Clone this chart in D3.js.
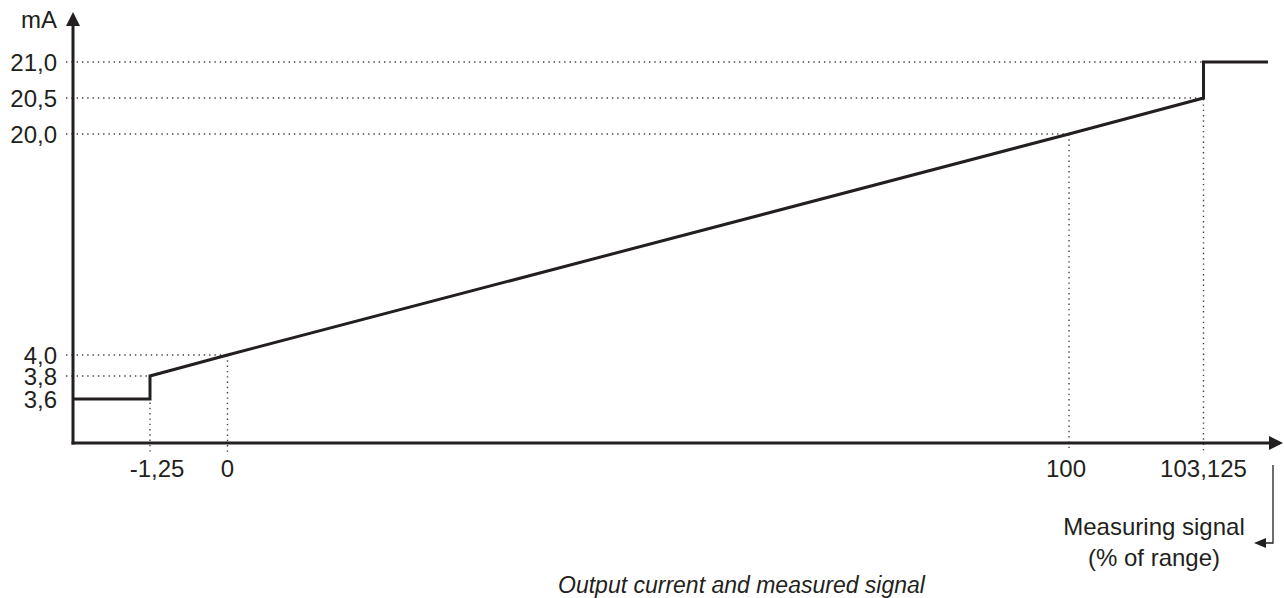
<!DOCTYPE html>
<html>
<head>
<meta charset="utf-8">
<script src="https://cdn.jsdelivr.net/npm/d3@7"></script>
<style>
  html, body { margin: 0; padding: 0; background: #fff; }
  svg { display: block; }
  text { font-family: "Liberation Sans", Arial, sans-serif; fill: #231f20; }
</style>
</head>
<body>
<svg id="chart" width="1284" height="598"></svg>
<script>
// ---- data ----
const xTicks = [-1.25, 0, 100, 103.125];
const xTickLabels = ["-1,25", "0", "100", "103,125"];
const yTicks = [3.6, 3.8, 4.0, 20.0, 20.5, 21.0];
const yTickLabels = ["3,6", "3,8", "4,0", "20,0", "20,5", "21,0"];
// characteristic curve (measuring signal %, output mA)
const curveX = [-2.5, -1.25, -1.25, 0, 100, 103.125, 103.125, 105];
const curveY = [3.6, 3.6, 3.8, 4.0, 20.0, 20.5, 21.0, 21.0];
// reference points marked with dotted guide lines
const guideX = [-1.25, 0, 100, 103.125, 103.125];
const guideY = [3.8, 4.0, 20.0, 20.5, 21.0];
const yUnit = "mA";
const xTitle = ["Measuring signal", "(% of range)"];
const caption = "Output current and measured signal";

// ---- layout ----
const svg = d3.select("#chart");
const ink = "#231f20";
const axisX0 = 73, axisY0 = 443;

// schematic (piecewise-linear) scales
const x = d3.scaleLinear()
  .domain([-2.5, -1.25, 0, 100, 103.125, 105])
  .range([axisX0, 150, 227.5, 1069, 1203.5, 1268]);
const y = d3.scaleLinear()
  .domain([3.3, 3.6, 3.8, 4.0, 20.0, 20.5, 21.0])
  .range([axisY0, 399, 376, 355, 134, 98, 62]);

// dotted guides
const g = svg.append("g");
guideX.forEach((gx, i) => {
  const gy = guideY[i];
  g.append("line")
    .attr("x1", 66).attr("x2", x(gx))
    .attr("y1", y(gy)).attr("y2", y(gy))
    .attr("stroke", "#444").attr("stroke-width", 1.4)
    .attr("stroke-dasharray", "1.4,3.9");
});
xTicks.forEach(t => {
  const top = d3.min(guideX.map((gx, i) => gx === t ? y(guideY[i]) : Infinity));
  g.append("line")
    .attr("x1", x(t)).attr("x2", x(t))
    .attr("y1", top).attr("y2", axisY0 + 9)
    .attr("stroke", "#444").attr("stroke-width", 1.4)
    .attr("stroke-dasharray", "1.4,3.9");
});

// curve
const line = d3.line().x(d => x(d[0])).y(d => y(d[1]));
svg.append("path")
  .attr("d", line(curveX.map((v, i) => [v, curveY[i]])))
  .attr("fill", "none").attr("stroke", ink).attr("stroke-width", 3)
  .attr("stroke-linejoin", "miter");

// axes
svg.append("line").attr("x1", axisX0).attr("x2", axisX0)
  .attr("y1", axisY0 + 1.5).attr("y2", 22)
  .attr("stroke", ink).attr("stroke-width", 3);
svg.append("path").attr("d", `M${axisX0},12 L${axisX0 - 7},26 L${axisX0 + 7},26 Z`).attr("fill", ink);
svg.append("line").attr("x1", axisX0 - 1.5).attr("x2", 1272)
  .attr("y1", axisY0).attr("y2", axisY0)
  .attr("stroke", ink).attr("stroke-width", 3);
svg.append("path").attr("d", `M1283,${axisY0} L1269,${axisY0 - 7} L1269,${axisY0 + 7} Z`).attr("fill", ink);

// y tick labels
svg.append("g").selectAll("text").data(yTicks).join("text")
  .attr("x", 57).attr("y", d => y(d) + 8.5)
  .attr("text-anchor", "end").attr("font-size", 24)
  .text((d, i) => yTickLabels[i]);
svg.append("text").attr("x", 57).attr("y", 28)
  .attr("text-anchor", "end").attr("font-size", 24).text(yUnit);

// x tick labels
svg.append("g").selectAll("text").data(xTicks).join("text")
  .attr("x", d => x(d)).attr("dx", (d, i) => i === 0 ? 7 : (i === 2 ? -3 : 0))
  .attr("y", 477)
  .attr("text-anchor", "middle").attr("font-size", 24)
  .text((d, i) => xTickLabels[i]);

// x title with bracket arrow
svg.append("text").attr("x", 1154).attr("y", 535)
  .attr("text-anchor", "middle").attr("font-size", 24).text(xTitle[0]);
svg.append("text").attr("x", 1154).attr("y", 566)
  .attr("text-anchor", "middle").attr("font-size", 24).text(xTitle[1]);
svg.append("path").attr("d", "M1273,465 L1273,543 L1264,543")
  .attr("fill", "none").attr("stroke", ink).attr("stroke-width", 1.3);
svg.append("path").attr("d", "M1254,543 L1266,538 L1266,548 Z").attr("fill", ink);

// caption
svg.append("text").attr("x", 741.5).attr("y", 593)
  .attr("text-anchor", "middle").attr("font-size", 23)
  .attr("font-style", "italic").text(caption);
</script>
</body>
</html>
